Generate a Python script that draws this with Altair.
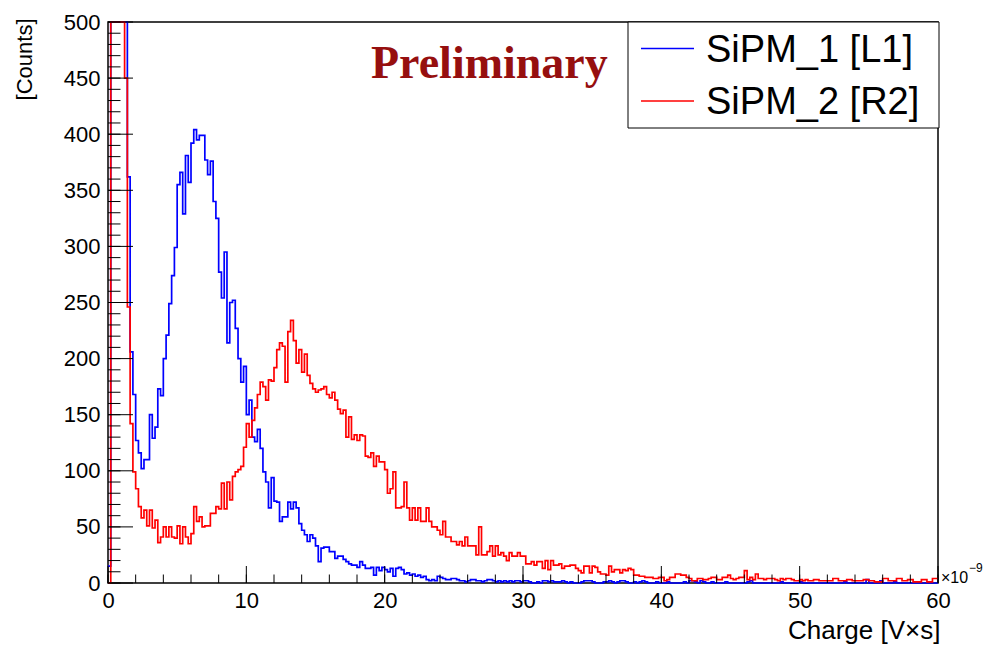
import altair as alt
import pandas as pd

# ---------------- data ----------------
BIN_WIDTH = 0.2          # histogram bin width, in units of 1e-9 V*s
X_MAX = 60.0
OFF = 2000               # bins that run off the top of the frame (> 500 counts)

series_names = ["SiPM_1 [L1]", "SiPM_2 [R2]"]
series_colors = ["#0000ff", "#ff0000"]

blue_counts = [
    15, OFF, OFF, OFF, OFF, OFF, OFF, 362, 206, 168, 127, 116, 102, 110, 110, 150, 129, 139, 173, 167,
    200, 221, 249, 274, 299, 355, 366, 329, 381, 357, 392, 404, 395, 399, 399, 377, 364, 376, 340, 325,
    277, 254, 295, 214, 250, 252, 227, 200, 179, 193, 150, 163, 130, 126, 137, 120, 99, 90, 67, 94,
    73, 72, 55, 59, 59, 72, 66, 72, 67, 53, 47, 43, 37, 43, 40, 33, 19, 31, 32, 32,
    28, 28, 22, 24, 24, 21, 19, 17, 16, 16, 14, 19, 16, 13, 13, 14, 7, 14, 11, 14,
    12, 10, 13, 6, 13, 14, 12, 8, 9, 7, 8, 6, 7, 5, 6, 3, 2, 3, 2, 6,
    5, 4, 3, 3, 4, 4, 3, 2, 2, 1, 2, 3, 3, 2, 2, 1, 2, 3, 3, 2,
    1, 2, 1, 2, 1, 2, 1, 2, 2, 1, 2, 2, 1, 0, 0, 1, 0, 2, 2, 1,
    2, 1, 1, 1, 2, 1, 0, 1, 0, 0, 0, 1, 2, 2, 2, 1, 0, 0, 0, 1,
    1, 2, 1, 0, 1, 2, 2, 1, 0, 0, 1, 0, 1, 2, 1, 0, 0, 0, 1, 0,
    0, 0, 1, 0, 0, 0, 0, 0, 1, 0, 2, 2, 1, 0, 2, 1, 0, 0, 1, 0,
    0, 0, 0, 1, 0, 0, 0, 0, 0, 0, 0, 1, 2, 0, 0, 0, 0, 0, 0, 0,
    0, 0, 0, 1, 0, 0, 0, 0, 0, 0, 1, 0, 0, 0, 0, 0, 0, 0, 0, 0,
    0, 0, 0, 0, 0, 0, 1, 0, 0, 0, 0, 0, 0, 0, 3, 0, 0, 0, 0, 2,
    0, 0, 0, 0, 1, 0, 0, 0, 0, 0, 0, 0, 0, 0, 0, 0, 0, 0, 0, 0,
]

red_counts = [
    0, OFF, OFF, OFF, OFF, OFF, 450, 246, 142, 99, 84, 68, 58, 65, 51, 65, 49, 56, 36, 41,
    50, 41, 50, 41, 40, 51, 35, 50, 41, 35, 44, 68, 55, 59, 50, 51, 51, 62, 62, 68,
    66, 89, 66, 90, 74, 95, 99, 101, 104, 121, 142, 130, 145, 156, 168, 179, 175, 163, 181, 180,
    192, 208, 214, 211, 179, 224, 234, 216, 196, 208, 188, 204, 185, 178, 173, 170, 172, 173, 175, 168,
    165, 170, 163, 155, 151, 154, 130, 148, 128, 132, 127, 132, 131, 113, 112, 116, 104, 113, 108, 108,
    101, 80, 84, 99, 67, 67, 68, 90, 67, 56, 67, 56, 67, 55, 55, 67, 55, 50, 50, 47,
    43, 55, 41, 41, 37, 37, 34, 37, 33, 41, 33, 33, 33, 25, 50, 25, 25, 28, 33, 24,
    33, 25, 27, 24, 20, 27, 24, 24, 27, 24, 24, 17, 17, 19, 16, 19, 19, 13, 20, 12,
    20, 16, 16, 17, 13, 15, 15, 16, 16, 13, 11, 9, 15, 15, 9, 15, 14, 10, 8, 8,
    7, 15, 10, 12, 12, 9, 12, 11, 13, 12, 7, 7, 6, 6, 5, 5, 5, 4, 4, 5,
    5, 2, 3, 5, 5, 8, 8, 7, 7, 5, 4, 2, 2, 4, 4, 3, 3, 4, 5, 5,
    3, 3, 5, 5, 7, 4, 3, 4, 5, 5, 11, 3, 5, 3, 8, 4, 4, 3, 4, 4,
    4, 3, 2, 4, 3, 4, 4, 3, 2, 2, 3, 2, 3, 2, 2, 3, 3, 2, 2, 2,
    2, 2, 4, 4, 2, 2, 2, 3, 3, 2, 2, 2, 2, 3, 3, 2, 2, 1, 1, 1,
    4, 4, 2, 2, 2, 4, 4, 2, 2, 3, 3, 1, 1, 1, 3, 3, 1, 1, 4, 4,
]

x_tick_labels = [0, 10, 20, 30, 40, 50, 60]
x_minor_ticks = list(range(0, 61, 2))
y_tick_labels = list(range(0, 501, 50))
y_minor_ticks = list(range(0, 501, 10))

x_title = "Charge [V\u00d7s]"
y_title = "[Counts]"
exponent_base = "\u00d710"
exponent_power = "\u22129"
watermark = "Preliminary"

# ---------------- tables ----------------
def step_table(counts):
    xs = [round(i * BIN_WIDTH, 4) for i in range(len(counts))] + [X_MAX]
    ys = list(counts) + [counts[-1]]
    return pd.DataFrame({"x": xs, "count": ys})

df_blue = step_table(blue_counts)
df_red = step_table(red_counts)

W, H = 830, 561
FONT = "Liberation Sans"

xscale = alt.Scale(domain=[0, X_MAX], nice=False, zero=False)
yscale = alt.Scale(domain=[0, 500], nice=False, clamp=True)

x_axis = alt.Axis(
    values=x_tick_labels, ticks=False, domain=False, grid=False,
    labelFont=FONT, labelFontSize=22, labelColor="black", labelPadding=7,
    labelFlush=False, labelOverlap=False,
    title=x_title, titleFont=FONT, titleFontSize=26, titleFontWeight="normal",
    titleColor="black", titleAlign="right", titleBaseline="alphabetic",
    titleX=832, titleY=55, titleAngle=0,
)
y_axis = alt.Axis(
    values=y_tick_labels, ticks=False, domain=False, grid=False,
    labelFont=FONT, labelFontSize=22, labelColor="black", labelPadding=8,
    labelFlush=False, labelOverlap=False,
    title=y_title, titleFont=FONT, titleFontSize=22, titleFontWeight="normal",
    titleColor="black", titleAngle=270, titleAlign="right", titleBaseline="top",
    titleX=-94, titleY=-4,
)

LW = 1.7
blue_line = alt.Chart(df_blue).mark_line(
    interpolate="step-after", strokeWidth=LW, color=series_colors[0]
).encode(
    x=alt.X("x:Q", scale=xscale, axis=x_axis),
    y=alt.Y("count:Q", scale=yscale, axis=y_axis),
)
red_line = alt.Chart(df_red).mark_line(
    interpolate="step-after", strokeWidth=LW, color=series_colors[1]
).encode(
    x=alt.X("x:Q", scale=xscale, axis=x_axis),
    y=alt.Y("count:Q", scale=yscale, axis=y_axis),
)

# inward ROOT-style ticks (share the same scales and axes as the histograms)
def xticks(vals, length):
    return alt.Chart(pd.DataFrame({"x": vals})).mark_rule(color="black", strokeWidth=1).encode(
        x=alt.X("x:Q", scale=xscale, axis=x_axis), y=alt.value(H), y2=alt.value(H - length)
    )

def yticks(vals, length):
    return alt.Chart(pd.DataFrame({"count": vals})).mark_rule(color="black", strokeWidth=1).encode(
        y=alt.Y("count:Q", scale=yscale, axis=y_axis), x=alt.value(0), x2=alt.value(length)
    )

tick_layers = [
    xticks(x_minor_ticks, 8.5), xticks(x_tick_labels, 17),
    yticks(y_minor_ticks, 12.5), yticks(y_tick_labels, 25),
]

def text_layer(txt, x, y, size, **kw):
    return alt.Chart(pd.DataFrame({"t": [txt]})).mark_text(
        fontSize=size, align=kw.pop("align", "left"), baseline=kw.pop("baseline", "alphabetic"), **kw
    ).encode(text="t:N", x=alt.value(x), y=alt.value(y))

prelim = text_layer(watermark, 263, 56, 46, font="Liberation Serif",
                    fontWeight="bold", color="#960f0f")

exp_base = text_layer(exponent_base, 833, 561, 16, font=FONT, color="black")
exp_pow = text_layer(exponent_power, 861, 550, 12, font=FONT, color="black")

# legend box
legend_box = alt.Chart(pd.DataFrame({"a": [0]})).mark_rect(
    fill="white", stroke="black", strokeWidth=1
).encode(x=alt.value(520), x2=alt.value(831), y=alt.value(0), y2=alt.value(106))

legend_rows = []
for name, col, ly in zip(series_names, series_colors, [26.5, 79]):
    legend_rows.append(
        alt.Chart(pd.DataFrame({"s": [name]})).mark_rule(color=col, strokeWidth=1.5).encode(
            x=alt.value(533), x2=alt.value(586), y=alt.value(ly)
        )
    )
    legend_rows.append(text_layer(name, 598, ly + 13, 38, font=FONT, color="black"))

chart = alt.layer(
    blue_line, red_line, *tick_layers, prelim, legend_box, *legend_rows, exp_base, exp_pow
).properties(
    width=W, height=H,
    padding={"left": 108, "top": 22, "right": 58, "bottom": 64},
    autosize=alt.AutoSizeParams(type="none"),
    background="white",
).configure_view(
    stroke="black", strokeWidth=1.5
)

chart.save("out.html", embed_options={"renderer": "svg", "actions": False})
